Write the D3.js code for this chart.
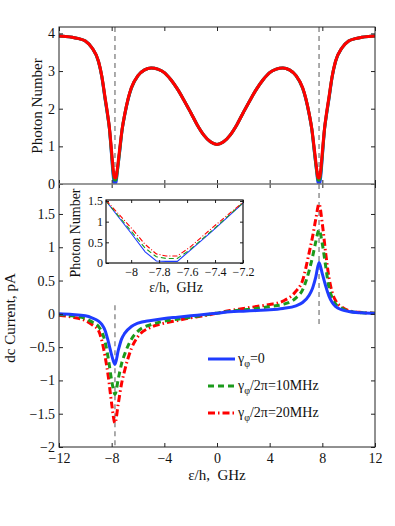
<!DOCTYPE html>
<html>
<head>
<meta charset="utf-8">
<script src="https://cdn.jsdelivr.net/npm/d3@7"></script>
<style>
  body { margin: 0; background: #fff; }
  svg text { font-family: "Liberation Serif", "Times New Roman", serif; }
</style>
</head>
<body>
<div id="vizz"></div>
<script>
//=========================================== DATA ===========================================
// photon number (top panel), epsilon/h in GHz
var photon_x = [-12, -11.5, -11, -10.5, -10, -9.5, -9, -8.75, -8.5, -8.3, -8.18, -8.0, -7.9, -7.82, -7.75, -7.67, -7.58, -7.41, -7.2, -7.0, -6.75, -6.5, -6, -5.5, -5, -4.5, -4, -3.5, -3, -2.5, -2, -1.5, -1, -0.5,
                0, 0.5, 1, 1.5, 2, 2.5, 3, 3.5, 4, 4.5, 5, 5.5, 6, 6.5, 6.75, 7.0, 7.2, 7.41, 7.58, 7.67, 7.75, 7.82, 7.9, 8.0, 8.18, 8.3, 8.5, 8.75, 9, 9.5, 10, 10.5, 11, 11.5, 12];
var photon_g0 = [3.93, 3.92, 3.90, 3.86, 3.80, 3.62, 3.25, 2.85, 2.25, 1.80, 1.50, 0.72, 0.27, 0.05, 0.03, 0.04, 0.30, 0.80, 1.45, 1.85, 2.25, 2.55, 2.88, 3.03, 3.08, 3.05, 2.96, 2.77, 2.52, 2.22, 1.90, 1.57, 1.30, 1.12,
                 1.05, 1.12, 1.30, 1.57, 1.90, 2.22, 2.52, 2.77, 2.96, 3.05, 3.08, 3.03, 2.88, 2.55, 2.25, 1.85, 1.45, 0.80, 0.30, 0.04, 0.03, 0.05, 0.27, 0.72, 1.50, 1.80, 2.25, 2.85, 3.25, 3.62, 3.80, 3.86, 3.90, 3.92, 3.93];
var photon_g10 = [3.93, 3.92, 3.90, 3.86, 3.80, 3.62, 3.25, 2.86, 2.27, 1.81, 1.50, 0.77, 0.36, 0.15, 0.10, 0.11, 0.32, 0.82, 1.46, 1.86, 2.26, 2.55, 2.88, 3.03, 3.08, 3.05, 2.96, 2.77, 2.52, 2.22, 1.90, 1.57, 1.30, 1.12,
                  1.05, 1.12, 1.30, 1.57, 1.90, 2.22, 2.52, 2.77, 2.96, 3.05, 3.08, 3.03, 2.88, 2.55, 2.26, 1.86, 1.46, 0.82, 0.32, 0.11, 0.10, 0.15, 0.36, 0.77, 1.50, 1.81, 2.27, 2.86, 3.25, 3.62, 3.80, 3.86, 3.90, 3.92, 3.93];
var photon_g20 = [3.93, 3.92, 3.90, 3.86, 3.80, 3.62, 3.26, 2.87, 2.30, 1.84, 1.52, 0.85, 0.45, 0.22, 0.16, 0.17, 0.38, 0.88, 1.47, 1.87, 2.27, 2.56, 2.88, 3.03, 3.08, 3.05, 2.96, 2.77, 2.52, 2.22, 1.90, 1.57, 1.30, 1.12,
                  1.05, 1.12, 1.30, 1.57, 1.90, 2.22, 2.52, 2.77, 2.96, 3.05, 3.08, 3.03, 2.88, 2.56, 2.27, 1.87, 1.47, 0.88, 0.38, 0.17, 0.16, 0.22, 0.45, 0.85, 1.52, 1.84, 2.30, 2.87, 3.26, 3.62, 3.80, 3.86, 3.90, 3.92, 3.93];

// dc current (bottom panel), pA
var current_x = [-12, -11, -10, -9.5, -9, -8.75, -8.5, -8.25, -8, -7.75, -7.5, -7.25, -7, -6.5, -6, -5, -4, -3, -2, -1, 0, 1, 2, 3, 4, 5, 6, 6.5, 7, 7.25, 7.5, 7.75, 8, 8.25, 8.5, 8.75, 9, 9.5, 10, 11, 12];
var current_g0 = [0.0, -0.01, -0.03, -0.06, -0.11, -0.16, -0.25, -0.42, -0.62, -0.76, -0.55, -0.38, -0.29, -0.19, -0.14, -0.10, -0.07, -0.05, -0.03, -0.01, 0.01, 0.03, 0.04, 0.05, 0.06, 0.08, 0.12, 0.17, 0.28, 0.38, 0.55, 0.77, 0.60, 0.42, 0.27, 0.17, 0.11, 0.06, 0.035, 0.015, 0.005];
var current_g10 = [-0.01, -0.03, -0.07, -0.12, -0.19, -0.27, -0.42, -0.68, -1.00, -1.21, -0.98, -0.75, -0.60, -0.38, -0.26, -0.16, -0.11, -0.08, -0.05, -0.02, 0.01, 0.04, 0.06, 0.08, 0.11, 0.14, 0.24, 0.36, 0.65, 0.85, 1.08, 1.26, 1.05, 0.72, 0.40, 0.24, 0.15, 0.08, 0.04, 0.015, 0.01];
var current_g20 = [-0.02, -0.05, -0.10, -0.16, -0.25, -0.40, -0.64, -0.95, -1.35, -1.64, -1.35, -1.05, -0.84, -0.52, -0.34, -0.20, -0.14, -0.10, -0.06, -0.03, 0.01, 0.05, 0.08, 0.11, 0.14, 0.19, 0.34, 0.50, 0.92, 1.15, 1.42, 1.65, 1.35, 0.92, 0.55, 0.32, 0.20, 0.10, 0.05, 0.02, 0.01];

// inset (photon number near the left resonance)
var inset_x = [-8.18, -8.0, -7.9, -7.82, -7.75, -7.67, -7.58, -7.41, -7.2];
var inset_g0 = [1.50, 0.72, 0.27, 0.05, 0.04, 0.04, 0.30, 0.80, 1.45];
var inset_g10 = [1.50, 0.77, 0.36, 0.15, 0.11, 0.11, 0.32, 0.82, 1.46];
var inset_g20 = [1.52, 0.85, 0.45, 0.22, 0.17, 0.17, 0.38, 0.88, 1.47];

// ticks
var x_ticks = [-12, -8, -4, 0, 4, 8, 12];
var photon_ticks = [0, 1, 2, 3, 4];
var current_ticks = [-2, -1.5, -1, -0.5, 0, 0.5, 1, 1.5];
var inset_x_ticks = [-8, -7.8, -7.6, -7.4, -7.2];
var inset_y_ticks = [0, 0.5, 1, 1.5];

// resonance markers (x position, bottom panel extent)
var res_x = [-7.75, 7.75];
var res_bottom_from = [0.13, 1.95];
var res_bottom_to = [-2, -0.2];

var legend_labels = ["=0", "/2π=10MHz", "/2π=20MHz"];

//=========================================== LAYOUT ===========================================
var W = 395, H = 526;
var left = 59, right = 375;
var top1 = 27, bot1 = 184, top2 = 184, bot2 = 447;
var ins = {l: 106, r: 243, t: 200, b: 263};

var blue = "#1f3cff", green = "#1c9a1c", red = "#ff0000";
var styles = [
  {c: blue, dash: null},
  {c: green, dash: "6,4"},
  {c: red, dash: "7,3,1.5,3"}
];

// plain number labels, with a real minus sign
function fmt(d){ return String(Math.round(d * 10) / 10).replace("-", "\u2212"); }

var svg = d3.select("#vizz").append("svg")
  .attr("width", W).attr("height", H)
  .style("background", "#fff");

var x = d3.scaleLinear().domain([-12, 12]).range([left, right]);
var y1 = d3.scaleLinear().domain([0, 4.17]).range([bot1, top1]);
var y2 = d3.scaleLinear().domain([-2, 1.95]).range([bot2, top2]);

//clip paths
var defs = svg.append("defs");
defs.append("clipPath").attr("id", "clip1").append("rect")
  .attr("x", left).attr("y", top1 - 2).attr("width", right - left).attr("height", bot1 - top1 + 2);
defs.append("clipPath").attr("id", "clip2").append("rect")
  .attr("x", left).attr("y", top2).attr("width", right - left).attr("height", bot2 - top2);

function axesBox(yscale, ticks, yTop, yBot, showX){
  var g = svg.append("g");
  // left
  g.append("g").attr("transform", "translate(" + left + ",0)")
    .call(d3.axisLeft(yscale).tickValues(ticks).tickSizeInner(-4).tickSizeOuter(0).tickPadding(4).tickFormat(fmt));
  // right
  g.append("g").attr("transform", "translate(" + right + ",0)")
    .call(d3.axisRight(yscale).tickValues(ticks).tickSizeInner(-4).tickSizeOuter(0).tickFormat(""));
  // top
  g.append("g").attr("transform", "translate(0," + yTop + ")")
    .call(d3.axisTop(x).tickValues(x_ticks).tickSizeInner(-4).tickSizeOuter(0).tickFormat(""));
  // bottom
  var b = d3.axisBottom(x).tickValues(x_ticks).tickSizeInner(-4).tickSizeOuter(0).tickPadding(6).tickFormat(showX ? fmt : "");
  g.append("g").attr("transform", "translate(0," + yBot + ")").call(b);
  g.selectAll(".domain").remove();
  g.selectAll(".tick line").attr("stroke", "#222");
  g.selectAll("text").attr("font-family", "Liberation Serif, Times New Roman, serif")
    .attr("font-size", 14).attr("fill", "#111");
  return g;
}

//================ TOP PANEL ================
var line1 = d3.line().x(function(d){ return x(d[0]); }).y(function(d){ return y1(d[1]); }).curve(d3.curveMonotoneX);
var top_series = [photon_g0, photon_g10, photon_g20];

// resonance markers
res_x.forEach(function(rx){
  svg.append("line").attr("x1", x(rx)).attr("x2", x(rx)).attr("y1", top1).attr("y2", bot1)
    .attr("stroke", "#888").attr("stroke-width", 1.4).attr("stroke-dasharray", "5,4");
});

var gTop = svg.append("g").attr("clip-path", "url(#clip1)");
top_series.forEach(function(s, i){
  gTop.append("path")
    .datum(photon_x.map(function(v, k){ return [v, s[k]]; }))
    .attr("fill", "none").attr("stroke", styles[i].c).attr("stroke-width", 3)
    .attr("stroke-linejoin", "round")
    .attr("d", line1);
});

//================ BOTTOM PANEL ================
var line2 = d3.line().x(function(d){ return x(d[0]); }).y(function(d){ return y2(d[1]); }).curve(d3.curveMonotoneX);
var bot_series = [current_g20, current_g10, current_g0];
var bot_styles = [styles[2], styles[1], styles[0]];

res_x.forEach(function(rx, i){
  svg.append("line").attr("x1", x(rx)).attr("x2", x(rx))
    .attr("y1", y2(res_bottom_from[i])).attr("y2", y2(res_bottom_to[i]))
    .attr("stroke", "#888").attr("stroke-width", 1.4).attr("stroke-dasharray", "5,4");
});

var gBot = svg.append("g").attr("clip-path", "url(#clip2)");
bot_series.forEach(function(s, i){
  gBot.append("path")
    .datum(current_x.map(function(v, k){ return [v, s[k]]; }))
    .attr("fill", "none").attr("stroke", bot_styles[i].c).attr("stroke-width", 3)
    .attr("stroke-dasharray", bot_styles[i].dash)
    .attr("d", line2);
});

// axes + frames
axesBox(y1, photon_ticks, top1, bot1, false);
axesBox(y2, current_ticks, top2, bot2, true);
svg.append("rect").attr("x", left).attr("y", top1).attr("width", right - left).attr("height", bot2 - top1)
  .attr("fill", "none").attr("stroke", "#222").attr("stroke-width", 1);
svg.append("line").attr("x1", left).attr("x2", right).attr("y1", bot1).attr("y2", bot1)
  .attr("stroke", "#777").attr("stroke-width", 1.6);

// axis labels
svg.append("text").attr("transform", "translate(42,106) rotate(-90)")
  .attr("text-anchor", "middle").attr("font-size", 15).attr("fill", "#111").text("Photon Number");
svg.append("text").attr("transform", "translate(15,318) rotate(-90)")
  .attr("text-anchor", "middle").attr("font-size", 15).attr("fill", "#111").text("dc Current, pA");
svg.append("text").attr("x", 217).attr("y", 480)
  .attr("text-anchor", "middle").attr("font-size", 15).attr("fill", "#111").text("ε/h,\u00a0 GHz");

//================ LEGEND ================
var leg_y = [359, 386, 413];
styles.forEach(function(st, i){
  svg.append("line").attr("x1", 208).attr("x2", 235).attr("y1", leg_y[i]).attr("y2", leg_y[i])
    .attr("stroke", st.c).attr("stroke-width", 3).attr("stroke-dasharray", st.dash);
  var t = svg.append("text").attr("x", 238).attr("y", leg_y[i] + 4).attr("font-size", 14).attr("fill", "#111");
  t.append("tspan").text("γ");
  t.append("tspan").attr("font-size", 10).attr("dy", 4).text("φ");
  t.append("tspan").attr("dy", -4).text(legend_labels[i]);
});

//================ INSET ================
var xi = d3.scaleLinear().domain([-8.18, -7.2]).range([ins.l, ins.r]);
var yi = d3.scaleLinear().domain([0, 1.5]).range([ins.b, ins.t + 1]);
svg.append("rect").attr("x", ins.l).attr("y", ins.t).attr("width", ins.r - ins.l).attr("height", ins.b - ins.t)
  .attr("fill", "#fff");
var linei = d3.line().x(function(d){ return xi(d[0]); }).y(function(d){ return yi(d[1]); });
var inset_series = [inset_g0, inset_g10, inset_g20];
inset_series.forEach(function(s, i){
  svg.append("path")
    .datum(inset_x.map(function(v, k){ return [v, s[k]]; }))
    .attr("fill", "none").attr("stroke", styles[i].c).attr("stroke-width", 1.1)
    .attr("stroke-dasharray", i == 1 ? "5,3" : (i == 2 ? "5,2,1,2" : null))
    .attr("d", linei);
});
var gi = svg.append("g");
gi.append("g").attr("transform", "translate(0," + ins.b + ")")
  .call(d3.axisBottom(xi).tickValues(inset_x_ticks).tickSizeInner(-3).tickSizeOuter(0).tickPadding(4).tickFormat(fmt));
gi.append("g").attr("transform", "translate(0," + ins.t + ")")
  .call(d3.axisTop(xi).tickValues(inset_x_ticks).tickSizeInner(-3).tickSizeOuter(0).tickFormat(""));
gi.append("g").attr("transform", "translate(" + ins.l + ",0)")
  .call(d3.axisLeft(yi).tickValues(inset_y_ticks).tickSizeInner(-3).tickSizeOuter(0).tickPadding(3).tickFormat(fmt));
gi.append("g").attr("transform", "translate(" + ins.r + ",0)")
  .call(d3.axisRight(yi).tickValues(inset_y_ticks).tickSizeInner(-3).tickSizeOuter(0).tickFormat(""));
gi.selectAll(".domain").remove();
gi.selectAll(".tick line").attr("stroke", "#222");
gi.selectAll("text").attr("font-family", "Liberation Sans, Arial, sans-serif").attr("font-size", 12).attr("fill", "#111");
svg.append("rect").attr("x", ins.l).attr("y", ins.t).attr("width", ins.r - ins.l).attr("height", ins.b - ins.t)
  .attr("fill", "none").attr("stroke", "#111").attr("stroke-width", 1.2);

svg.append("text").attr("transform", "translate(80,233) rotate(-90)")
  .attr("text-anchor", "middle").attr("font-size", 14).attr("fill", "#111").text("Photon Number");
svg.append("text").attr("x", 176).attr("y", 292)
  .attr("text-anchor", "middle").attr("font-size", 14).attr("fill", "#111").text("ε/h,\u00a0 GHz");
</script>
</body>
</html>
